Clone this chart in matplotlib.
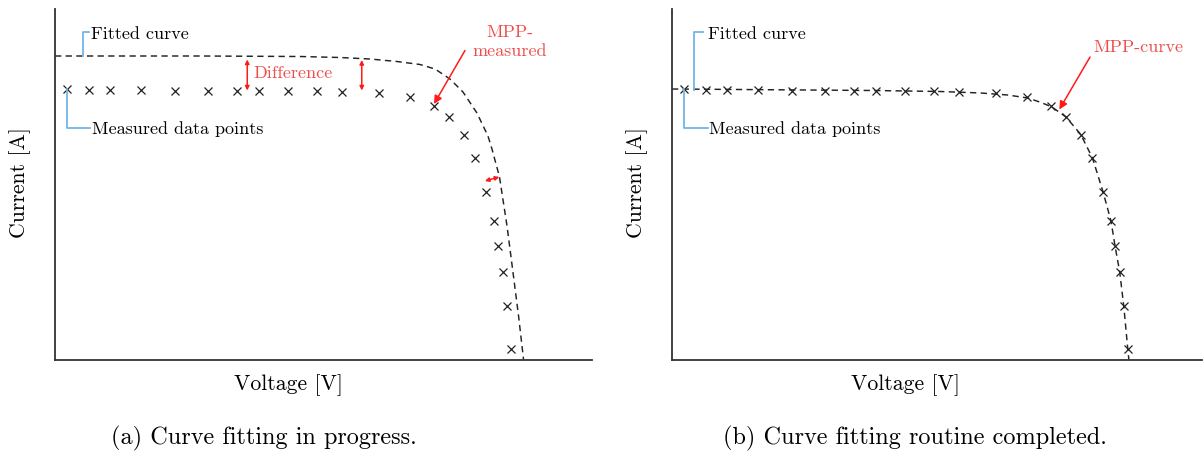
import matplotlib
matplotlib.use("Agg")
import matplotlib.pyplot as plt

plt.rcParams["font.family"] = ["cmr10", "DejaVu Serif"]
plt.rcParams["mathtext.fontset"] = "cm"
plt.rcParams["axes.unicode_minus"] = False

# Measured I-V data points
voltage = [0.87, 2.53, 4.10, 6.41, 8.94, 11.36, 13.52, 15.23, 17.32, 19.52,
           21.36, 24.13, 26.44, 28.21, 29.35, 30.44, 31.32, 32.10, 32.70,
           33.00, 33.35, 33.65, 33.95]
current = [5.41, 5.40, 5.40, 5.39, 5.38, 5.38, 5.38, 5.38, 5.37, 5.37,
           5.35, 5.33, 5.25, 5.07, 4.85, 4.50, 4.03, 3.36, 2.77,
           2.27, 1.75, 1.07, 0.21]

# Fitted curve while the fit is still running
fit_start_v = [0.0, 10.80, 18.25, 21.23, 23.46, 25.47, 27.19, 28.31, 29.42,
               30.39, 31.43, 32.25, 32.55, 33.11, 33.67, 34.15, 34.53, 34.90]
fit_start_i = [6.07, 6.07, 6.06, 6.04, 6.01, 5.96, 5.90, 5.81, 5.61,
               5.35, 4.93, 4.47, 4.21, 3.65, 2.67, 1.67, 0.87, 0.0]

# Fitted curve after the routine has converged
fit_final_v = [0.0, 5.0, 10.0, 15.0, 20.0, 23.0, 25.0, 26.5, 27.5, 28.3,
               29.35, 30.45, 31.32, 32.10, 32.70, 33.00, 33.35, 33.65,
               33.95, 34.03]
fit_final_i = [5.41, 5.40, 5.39, 5.38, 5.36, 5.33, 5.29, 5.23, 5.14, 5.05,
               4.85, 4.50, 4.03, 3.36, 2.77, 2.27, 1.75, 1.07,
               0.21, 0.0]

captions = ["(a) Curve fitting in progress.", "(b) Curve fitting routine completed."]

W, H = 1203, 456
fig = plt.figure(figsize=(W / 100, H / 100), dpi=100)

PX_PER_V = 13.425
PX_PER_A = 50.0
ax_top, ax_bot = 10, 360.5


def make_axes(left_px, right_px):
    ax = fig.add_axes([left_px / W, 1 - ax_bot / H,
                       (right_px - left_px) / W, (ax_bot - ax_top) / H])
    ax.set_xlim(0, (right_px - left_px) / PX_PER_V)
    ax.set_ylim(0, (ax_bot - ax_top) / PX_PER_A)
    for s in ("top", "right"):
        ax.spines[s].set_visible(False)
    for s in ("left", "bottom"):
        ax.spines[s].set_color("#333333")
        ax.spines[s].set_linewidth(1.3)
    ax.set_xticks([])
    ax.set_yticks([])
    return ax


RED_TXT = "#f04c4c"
RED = "#ff1a1a"
BLUE = "#72b6e6"
DASH = (0, (4.3, 3.0))
ANN_FS = 13

axes = [make_axes(55, 592), make_axes(672, 1202)]

# ---- (a) fit in progress
ax = axes[0]
ax.plot(fit_start_v, fit_start_i, color="#222222", lw=1.05, linestyle=DASH)
ax.plot(voltage, current, linestyle="none", marker="x", ms=5.8, mew=0.9,
        color="#222222")

ax.plot([2.06, 2.06, 2.55], [6.07, 6.55, 6.55], color=BLUE, lw=1.3)
ax.text(2.66, 6.52, "Fitted curve", fontsize=ANN_FS, va="center", ha="left")
ax.plot([0.87, 0.87, 2.60], [5.41, 4.64, 4.64], color=BLUE, lw=1.3)
ax.text(2.72, 4.62, "Measured data points", fontsize=ANN_FS, va="center",
        ha="left")

arrow2 = dict(arrowstyle="<|-|>", color=RED, lw=1.1, mutation_scale=6,
              shrinkA=0, shrinkB=0)
ax.annotate("", xy=(14.32, 6.00), xytext=(14.32, 5.38), arrowprops=arrow2)
ax.annotate("", xy=(22.85, 5.99), xytext=(22.85, 5.38), arrowprops=arrow2)
ax.annotate("", xy=(32.02, 3.57), xytext=(33.10, 3.65), arrowprops=arrow2)
ax.text(14.75, 5.74, "Difference", fontsize=ANN_FS, color=RED_TXT,
        va="center", ha="left")

ax.annotate("", xy=(28.23, 5.11), xytext=(30.54, 6.18),
            arrowprops=dict(arrowstyle="-|>", color=RED, lw=1.1,
                            mutation_scale=12, shrinkA=0, shrinkB=0))
ax.text(33.9, 6.37, "MPP-\nmeasured", fontsize=ANN_FS, color=RED_TXT,
        va="center", ha="center", multialignment="center", linespacing=1.3)

# ---- (b) routine completed
ax = axes[1]
ax.plot(fit_final_v, fit_final_i, color="#222222", lw=1.05, linestyle=DASH)
ax.plot(voltage, current, linestyle="none", marker="x", ms=5.8, mew=0.9,
        color="#222222")

ax.plot([1.66, 1.66, 2.31], [5.40, 6.55, 6.55], color=BLUE, lw=1.3)
ax.text(2.68, 6.52, "Fitted curve", fontsize=ANN_FS, va="center", ha="left")
ax.plot([0.89, 0.89, 2.66], [5.41, 4.64, 4.64], color=BLUE, lw=1.3)
ax.text(2.72, 4.62, "Measured data points", fontsize=ANN_FS, va="center",
        ha="left")

ax.annotate("", xy=(28.85, 5.00), xytext=(31.14, 6.05),
            arrowprops=dict(arrowstyle="-|>", color=RED, lw=1.1,
                            mutation_scale=12, shrinkA=0, shrinkB=0))
ax.text(34.71, 6.27, "MPP-curve", fontsize=ANN_FS, color=RED_TXT,
        va="center", ha="center")

# ---- axis labels and sub-captions
LBL_FS = 15.7
for xl, yl in [(289, 20), (906, 637)]:
    fig.text(xl / W, 1 - 385 / H, "Voltage [V]", fontsize=LBL_FS,
             ha="center", va="center")
    fig.text(yl / W, 1 - 183 / H, "Current [A]", fontsize=LBL_FS,
             ha="center", va="center", rotation=90)

for cx, cap in zip([264, 915], captions):
    fig.text(cx / W, 1 - 438 / H, cap, fontsize=17.5, ha="center", va="center")

fig.savefig("out.png", dpi=100)
